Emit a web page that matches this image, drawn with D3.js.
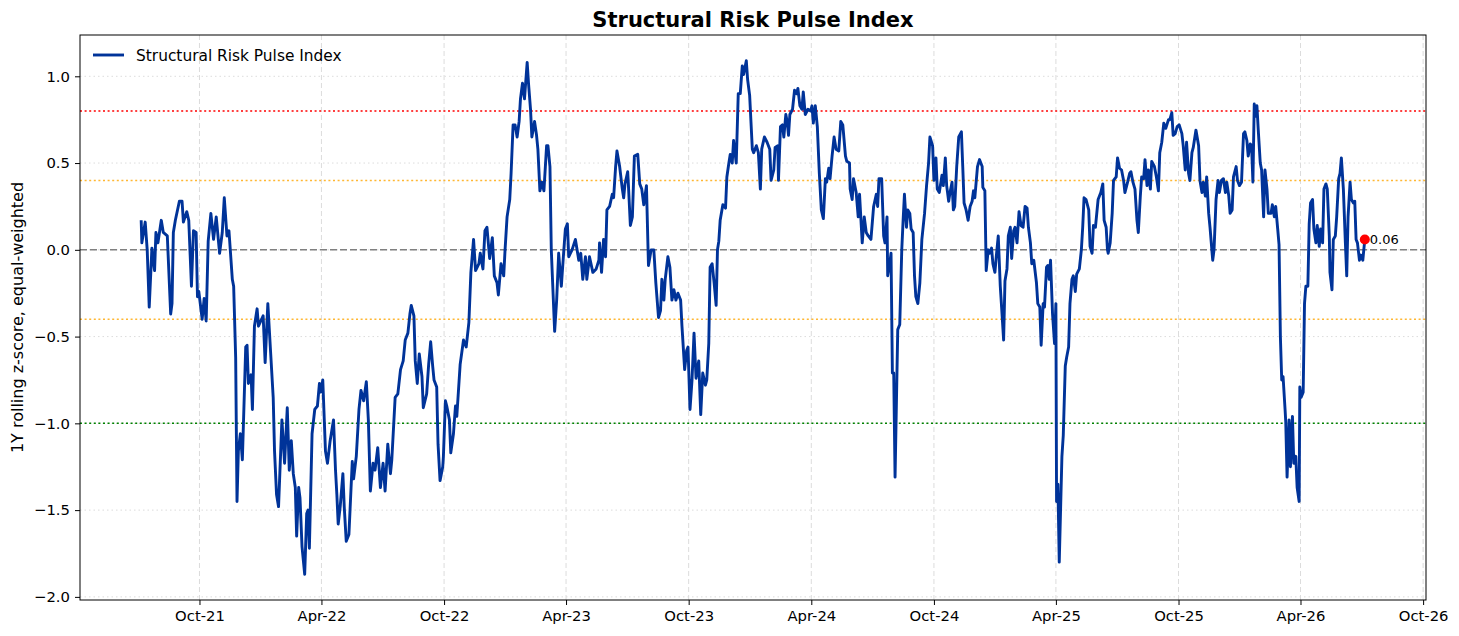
<!DOCTYPE html>
<html>
<head>
<meta charset="utf-8">
<script src="https://cdn.jsdelivr.net/npm/d3@7"></script>
<style>
  body { margin: 0; background: #fff; }
  svg { font-family: "DejaVu Sans", sans-serif; }
</style>
</head>
<body>
<svg id="chart" width="1459" height="636"></svg>
<script>
// index readings (date, z-score)
var pts2021 = [
  ["2021-07-06",0.17],["2021-07-07",0.04],["2021-07-12",0.16],["2021-07-15",0.0],["2021-07-18",-0.33],
  ["2021-07-22",0.01],["2021-07-26",-0.12],["2021-07-28",0.10],["2021-07-31",0.04],["2021-08-05",0.17],
  ["2021-08-08",0.10],["2021-08-14",0.08],["2021-08-19",-0.37],["2021-08-21",-0.31],["2021-08-23",0.10],
  ["2021-08-26",0.17],["2021-09-01",0.28],["2021-09-05",0.28],["2021-09-07",0.16],["2021-09-12",0.22],
  ["2021-09-15",0.17],["2021-09-19",-0.21],["2021-09-22",0.11],["2021-09-26",0.10],["2021-09-28",-0.27],
  ["2021-09-30",-0.24],["2021-10-05",-0.40],["2021-10-08",-0.28],["2021-10-11",-0.41],["2021-10-14",0.05],
  ["2021-10-18",0.21],["2021-10-22",0.06],["2021-10-26",0.19],["2021-10-31",-0.02],["2021-11-04",0.10],
  ["2021-11-07",0.30],["2021-11-11",0.08],["2021-11-14",0.11],["2021-11-19",-0.17],["2021-11-21",-0.21],
  ["2021-11-24",-0.62],["2021-11-26",-1.45],["2021-11-28",-1.16],["2021-12-01",-1.06],["2021-12-04",-1.21],
  ["2021-12-09",-0.56],["2021-12-11",-0.55],["2021-12-13",-0.77],["2021-12-17",-0.72],["2021-12-19",-0.92],
  ["2021-12-22",-0.44],["2021-12-26",-0.34],["2021-12-28",-0.44]
];
var pts2022 = [
  ["2022-01-04",-0.38],["2022-01-07",-0.65],["2022-01-11",-0.31],["2022-01-15",-0.58],["2022-01-19",-0.85],
  ["2022-01-21",-1.16],["2022-01-24",-1.41],["2022-01-27",-1.48],["2022-02-01",-0.98],["2022-02-05",-1.23],
  ["2022-02-09",-0.91],["2022-02-12",-1.27],["2022-02-15",-1.10],["2022-02-18",-1.29],["2022-02-21",-1.37],
  ["2022-02-23",-1.65],["2022-02-26",-1.37],["2022-02-28",-1.43],["2022-03-03",-1.71],["2022-03-07",-1.87],
  ["2022-03-10",-1.52],["2022-03-12",-1.50],["2022-03-14",-1.72],["2022-03-18",-1.06],["2022-03-22",-0.92],
  ["2022-03-26",-0.90],["2022-03-29",-0.77],["2022-03-31",-0.82],["2022-04-03",-0.75],["2022-04-07",-1.16],
  ["2022-04-10",-1.23],["2022-04-14",-1.10],["2022-04-19",-0.98],["2022-04-22",-1.27],["2022-04-24",-1.41],
  ["2022-04-26",-1.58],["2022-04-29",-1.48],["2022-05-03",-1.29],["2022-05-05",-1.48],["2022-05-08",-1.68],
  ["2022-05-12",-1.64],["2022-05-17",-1.22],["2022-05-19",-1.32],["2022-05-23",-1.19],["2022-05-27",-0.92],
  ["2022-05-30",-0.81],["2022-06-03",-0.87],["2022-06-07",-0.76],["2022-06-10",-0.98],["2022-06-13",-1.39],
  ["2022-06-17",-1.23],["2022-06-20",-1.27],["2022-06-24",-1.14],["2022-06-28",-1.37],["2022-07-02",-1.23],
  ["2022-07-05",-1.39],["2022-07-09",-1.12],["2022-07-13",-1.29],["2022-07-15",-1.21],["2022-07-20",-0.85],
  ["2022-07-24",-0.83],["2022-07-28",-0.69],["2022-08-01",-0.64],["2022-08-04",-0.52],["2022-08-08",-0.48],
  ["2022-08-11",-0.37],["2022-08-13",-0.32],["2022-08-17",-0.38],["2022-08-19",-0.64],["2022-08-22",-0.77],
  ["2022-08-25",-0.60],["2022-08-29",-0.73],["2022-08-31",-0.91],["2022-09-05",-0.83],["2022-09-08",-0.66],
  ["2022-09-11",-0.53],["2022-09-14",-0.67],["2022-09-16",-0.75],["2022-09-20",-0.79],["2022-09-22",-1.12],
  ["2022-09-25",-1.33],["2022-09-29",-1.25],["2022-09-30",-1.19],["2022-10-03",-0.87],["2022-10-05",-0.90],
  ["2022-10-09",-0.98],["2022-10-11",-1.17],["2022-10-15",-1.06],["2022-10-18",-0.90],["2022-10-20",-0.96],
  ["2022-10-25",-0.66],["2022-10-30",-0.52],["2022-11-03",-0.56],["2022-11-07",-0.42],["2022-11-10",-0.13],
  ["2022-11-14",0.06],["2022-11-17",-0.12],["2022-11-22",-0.08],["2022-11-24",-0.02],["2022-11-28",-0.11],
  ["2022-12-01",0.11],["2022-12-04",0.13],["2022-12-08",-0.05],["2022-12-12",0.07],["2022-12-15",-0.15],
  ["2022-12-19",-0.19],["2022-12-21",-0.26],["2022-12-25",-0.08],["2022-12-29",-0.15],["2022-12-31",0.0]
];
var pts2023 = [
  ["2023-01-03",0.19],["2023-01-07",0.29],["2023-01-09",0.44],["2023-01-12",0.72],["2023-01-15",0.72],
  ["2023-01-18",0.65],["2023-01-21",0.74],["2023-01-23",0.87],["2023-01-26",0.96],["2023-01-29",0.87],
  ["2023-02-02",1.08],["2023-02-04",0.96],["2023-02-07",0.81],["2023-02-09",0.65],["2023-02-13",0.74],
  ["2023-02-16",0.66],["2023-02-18",0.58],["2023-02-21",0.34],["2023-02-24",0.39],["2023-02-27",0.34],
  ["2023-03-03",0.60],["2023-03-05",0.60],["2023-03-08",0.48],["2023-03-10",0.0],["2023-03-12",-0.19],
  ["2023-03-15",-0.47],["2023-03-18",-0.29],["2023-03-21",-0.02],["2023-03-25",-0.21],["2023-03-28",-0.04],
  ["2023-03-31",0.12],["2023-04-03",0.15],["2023-04-05",-0.04],["2023-04-10",0.0],["2023-04-15",0.06],
  ["2023-04-20",-0.06],["2023-04-23",-0.02],["2023-04-26",-0.17],["2023-04-30",-0.04],["2023-05-02",-0.17],
  ["2023-05-06",-0.04],["2023-05-11",-0.13],["2023-05-16",-0.11],["2023-05-20",-0.06],["2023-05-21",0.04],
  ["2023-05-24",-0.13],["2023-05-27",0.06],["2023-05-30",-0.04],["2023-06-01",0.23],["2023-06-05",0.25],
  ["2023-06-09",0.32],["2023-06-11",0.30],["2023-06-14",0.48],["2023-06-16",0.57],["2023-06-20",0.48],
  ["2023-06-24",0.35],["2023-06-26",0.30],["2023-06-28",0.38],["2023-07-02",0.45],["2023-07-03",0.38],
  ["2023-07-06",0.14],["2023-07-09",0.19],["2023-07-12",0.54],["2023-07-17",0.55],["2023-07-20",0.38],
  ["2023-07-23",0.35],["2023-07-26",0.26],["2023-07-30",0.37],["2023-08-02",-0.09],["2023-08-06",0.0],
  ["2023-08-10",0.0],["2023-08-13",-0.19],["2023-08-17",-0.39],["2023-08-20",-0.35],["2023-08-22",-0.17],
  ["2023-08-25",-0.29],["2023-08-27",-0.17],["2023-08-31",-0.04],["2023-09-03",-0.10],["2023-09-06",-0.29],
  ["2023-09-09",-0.23],["2023-09-12",-0.29],["2023-09-15",-0.25],["2023-09-19",-0.29],["2023-09-21",-0.44],
  ["2023-09-25",-0.69],["2023-09-28",-0.58],["2023-09-30",-0.56],["2023-10-03",-0.92],["2023-10-06",-0.75],
  ["2023-10-09",-0.48],["2023-10-12",-0.74],["2023-10-16",-0.64],["2023-10-19",-0.95],["2023-10-22",-0.71],
  ["2023-10-26",-0.78],["2023-10-28",-0.75],["2023-10-31",-0.54],["2023-11-02",-0.10],["2023-11-05",-0.08],
  ["2023-11-08",-0.19],["2023-11-11",-0.32],["2023-11-13",0.0],["2023-11-15",0.05],["2023-11-17",0.17],
  ["2023-11-21",0.26],["2023-11-25",0.24],["2023-11-27",0.42],["2023-11-30",0.50],["2023-12-02",0.55],
  ["2023-12-05",0.50],["2023-12-07",0.63],["2023-12-11",0.50],["2023-12-14",0.90],["2023-12-17",0.90],
  ["2023-12-20",1.06],["2023-12-22",1.01],["2023-12-26",1.09],["2023-12-28",0.98],["2023-12-31",0.89]
];
var pts2024 = [
  ["2024-01-04",0.58],["2024-01-06",0.56],["2024-01-10",0.60],["2024-01-13",0.56],["2024-01-16",0.35],
  ["2024-01-18",0.58],["2024-01-22",0.65],["2024-01-26",0.62],["2024-01-30",0.58],["2024-02-01",0.40],
  ["2024-02-05",0.46],["2024-02-07",0.59],["2024-02-11",0.60],["2024-02-12",0.40],["2024-02-15",0.71],
  ["2024-02-18",0.72],["2024-02-20",0.65],["2024-02-23",0.78],["2024-02-25",0.74],["2024-02-27",0.66],
  ["2024-02-29",0.78],["2024-03-04",0.81],["2024-03-07",0.92],["2024-03-10",0.90],["2024-03-12",0.93],
  ["2024-03-15",0.83],["2024-03-18",0.81],["2024-03-20",0.91],["2024-03-23",0.78],["2024-03-27",0.81],
  ["2024-03-31",0.80],["2024-04-02",0.83],["2024-04-04",0.73],["2024-04-07",0.83],["2024-04-10",0.71],
  ["2024-04-13",0.44],["2024-04-16",0.23],["2024-04-19",0.18],["2024-04-22",0.41],["2024-04-24",0.39],
  ["2024-04-27",0.47],["2024-04-29",0.41],["2024-05-02",0.54],["2024-05-05",0.65],["2024-05-08",0.58],
  ["2024-05-12",0.57],["2024-05-15",0.74],["2024-05-18",0.72],["2024-05-22",0.54],["2024-05-24",0.51],
  ["2024-05-28",0.50],["2024-05-29",0.35],["2024-06-01",0.29],["2024-06-03",0.41],["2024-06-07",0.33],
  ["2024-06-10",0.19],["2024-06-12",0.32],["2024-06-16",0.04],["2024-06-19",0.19],["2024-06-22",0.10],
  ["2024-06-25",0.08],["2024-06-29",0.06],["2024-07-03",0.25],["2024-07-07",0.32],["2024-07-09",0.25],
  ["2024-07-11",0.41],["2024-07-15",0.41],["2024-07-18",0.08],["2024-07-20",0.04],["2024-07-23",0.19],
  ["2024-07-24",-0.15],["2024-07-27",-0.08],["2024-07-29",-0.02],["2024-07-31",-0.71],["2024-08-02",-0.71],
  ["2024-08-04",-1.31],["2024-08-08",-0.46],["2024-08-11",-0.43],["2024-08-14",0.0],["2024-08-16",0.17],
  ["2024-08-18",0.32],["2024-08-21",0.13],["2024-08-23",0.23],["2024-08-26",0.21],["2024-08-28",0.12],
  ["2024-08-31",0.10],["2024-09-02",-0.15],["2024-09-04",-0.27],["2024-09-07",-0.31],["2024-09-10",-0.19],
  ["2024-09-13",0.06],["2024-09-17",0.21],["2024-09-20",0.37],["2024-09-23",0.50],["2024-09-25",0.65],
  ["2024-09-29",0.60],["2024-10-01",0.40],["2024-10-04",0.53],["2024-10-06",0.35],["2024-10-09",0.33],
  ["2024-10-13",0.43],["2024-10-15",0.37],["2024-10-18",0.53],["2024-10-20",0.37],["2024-10-23",0.28],
  ["2024-10-25",0.33],["2024-10-28",0.39],["2024-10-30",0.23],["2024-11-01",0.25],["2024-11-04",0.48],
  ["2024-11-07",0.65],["2024-11-11",0.68],["2024-11-13",0.48],["2024-11-15",0.27],["2024-11-18",0.23],
  ["2024-11-21",0.17],["2024-11-24",0.25],["2024-11-27",0.28],["2024-11-29",0.34],["2024-12-01",0.30],
  ["2024-12-05",0.48],["2024-12-08",0.52],["2024-12-12",0.48],["2024-12-13",0.36],["2024-12-16",0.34],
  ["2024-12-18",-0.12],["2024-12-21",0.0],["2024-12-23",-0.02],["2024-12-26",0.01],["2024-12-28",-0.08],
  ["2024-12-31",-0.13]
];
var pts2025 = [
  ["2025-01-02",-0.04],["2025-01-05",0.08],["2025-01-08",-0.21],["2025-01-10",-0.33],["2025-01-13",-0.52],
  ["2025-01-15",-0.18],["2025-01-18",-0.11],["2025-01-20",0.08],["2025-01-23",0.13],["2025-01-25",-0.05],
  ["2025-01-28",0.11],["2025-01-30",0.13],["2025-02-02",0.04],["2025-02-05",0.22],["2025-02-08",0.14],
  ["2025-02-11",0.13],["2025-02-14",0.25],["2025-02-17",0.24],["2025-02-19",0.13],["2025-02-22",0.04],
  ["2025-02-24",-0.08],["2025-02-27",-0.06],["2025-03-03",-0.19],["2025-03-05",-0.31],["2025-03-08",-0.33],
  ["2025-03-10",-0.55],["2025-03-13",-0.31],["2025-03-15",-0.33],["2025-03-18",-0.10],["2025-03-20",-0.09],
  ["2025-03-22",-0.17],["2025-03-24",-0.06],["2025-03-27",-0.37],["2025-03-30",-0.54],["2025-04-01",-0.31],
  ["2025-04-02",-1.45],["2025-04-04",-1.35],["2025-04-06",-1.80],["2025-04-10",-1.19],["2025-04-12",-1.07],
  ["2025-04-15",-0.67],["2025-04-17",-0.62],["2025-04-20",-0.56],["2025-04-22",-0.31],["2025-04-25",-0.17],
  ["2025-04-27",-0.15],["2025-04-30",-0.24],["2025-05-02",-0.14],["2025-05-06",-0.11],["2025-05-09",0.0],
  ["2025-05-11",0.13],["2025-05-13",0.30],["2025-05-16",0.29],["2025-05-20",0.23],["2025-05-22",0.02],
  ["2025-05-25",-0.02],["2025-05-27",0.14],["2025-05-30",0.13],["2025-06-03",0.29],["2025-06-07",0.33],
  ["2025-06-10",0.38],["2025-06-12",0.17],["2025-06-15",0.13],["2025-06-17",0.0],["2025-06-18",-0.02],
  ["2025-06-21",0.04],["2025-06-24",0.21],["2025-06-26",0.40],["2025-06-30",0.42],["2025-07-02",0.53],
  ["2025-07-05",0.47],["2025-07-08",0.46],["2025-07-11",0.40],["2025-07-13",0.33],["2025-07-17",0.39],
  ["2025-07-20",0.44],["2025-07-22",0.45],["2025-07-25",0.39],["2025-07-28",0.35],["2025-07-31",0.17],
  ["2025-08-02",0.10],["2025-08-05",0.31],["2025-08-07",0.42],["2025-08-10",0.41],["2025-08-12",0.52],
  ["2025-08-15",0.37],["2025-08-17",0.46],["2025-08-20",0.35],["2025-08-22",0.51],["2025-08-26",0.48],
  ["2025-08-29",0.42],["2025-09-01",0.34],["2025-09-03",0.56],["2025-09-06",0.62],["2025-09-09",0.73],
  ["2025-09-12",0.70],["2025-09-16",0.75],["2025-09-18",0.75],["2025-09-21",0.79],["2025-09-23",0.66],
  ["2025-09-26",0.67],["2025-09-29",0.71],["2025-10-02",0.72],["2025-10-06",0.67],["2025-10-08",0.60],
  ["2025-10-11",0.46],["2025-10-13",0.62],["2025-10-16",0.44],["2025-10-18",0.40],["2025-10-21",0.56],
  ["2025-10-23",0.59],["2025-10-27",0.69],["2025-10-31",0.60],["2025-11-02",0.40],["2025-11-05",0.33],
  ["2025-11-07",0.39],["2025-11-10",0.31],["2025-11-12",0.42],["2025-11-15",0.21],["2025-11-17",0.13],
  ["2025-11-21",-0.06],["2025-11-23",0.0],["2025-11-26",0.29],["2025-11-29",0.40],["2025-12-01",0.33],
  ["2025-12-04",0.40],["2025-12-07",0.41],["2025-12-10",0.33],["2025-12-12",0.39],["2025-12-15",0.31],
  ["2025-12-17",0.21],["2025-12-20",0.23],["2025-12-22",0.42],["2025-12-26",0.48],["2025-12-28",0.40],
  ["2025-12-31",0.37]
];
var pts2026 = [
  ["2026-01-03",0.39],["2026-01-06",0.67],["2026-01-08",0.68],["2026-01-11",0.63],["2026-01-13",0.54],
  ["2026-01-16",0.61],["2026-01-18",0.60],["2026-01-20",0.39],["2026-01-22",0.84],["2026-01-24",0.77],
  ["2026-01-26",0.83],["2026-01-28",0.69],["2026-01-31",0.50],["2026-02-02",0.46],["2026-02-05",0.19],
  ["2026-02-07",0.46],["2026-02-10",0.35],["2026-02-12",0.21],["2026-02-16",0.21],["2026-02-18",0.26],
  ["2026-02-21",0.19],["2026-02-23",0.25],["2026-02-26",0.12],["2026-02-28",0.03],["2026-03-02",-0.50],
  ["2026-03-04",-0.75],["2026-03-06",-0.73],["2026-03-09",-0.92],["2026-03-10",-0.99],["2026-03-12",-1.31],
  ["2026-03-15",-0.98],["2026-03-17",-1.25],["2026-03-20",-0.96],["2026-03-22",-1.23],["2026-03-25",-1.19],
  ["2026-03-27",-1.37],["2026-03-30",-1.45],["2026-03-31",-0.79],["2026-04-02",-0.85],["2026-04-05",-0.82],
  ["2026-04-07",-0.31],["2026-04-09",-0.21],["2026-04-12",-0.21],["2026-04-14",0.15],["2026-04-16",0.27],
  ["2026-04-19",0.29],["2026-04-21",0.12],["2026-04-24",0.04],["2026-04-26",0.14],["2026-04-29",0.02],
  ["2026-05-01",0.12],["2026-05-04",0.04],["2026-05-06",0.35],["2026-05-09",0.38],["2026-05-11",0.35],
  ["2026-05-14",0.08],["2026-05-15",-0.13],["2026-05-18",-0.23],["2026-05-20",0.06],["2026-05-23",0.08],
  ["2026-05-25",0.19],["2026-05-28",0.41],["2026-05-30",0.44],["2026-06-01",0.53],["2026-06-04",0.35],
  ["2026-06-07",0.04],["2026-06-09",-0.15],["2026-06-11",0.19],["2026-06-14",0.39],["2026-06-16",0.29],
  ["2026-06-19",0.27],["2026-06-21",0.28],["2026-06-23",0.06],["2026-06-25",0.04],["2026-06-28",-0.06],
  ["2026-06-30",-0.03],["2026-07-03",-0.06],["2026-07-06",0.06]
];

var seriesName = "Structural Risk Pulse Index";
var xTickDates = ["2021-10-01","2022-04-01","2022-10-01","2023-04-01","2023-10-01","2024-04-01",
                  "2024-10-01","2025-04-01","2025-10-01","2026-04-01","2026-10-01"];
var yTicks = [-2.0, -1.5, -1.0, -0.5, 0.0, 0.5, 1.0];
// threshold lines: level, colour, dash
var refLevels = [0.8, 0.4, 0, -0.4, -1.0];
var refColors = ["#ff0000", "#ffb733", "#808080", "#ffb733", "#008000"];
var refDashes = ["2,2.6", "2,2.6", "7,3", "2,2.6", "2,2.6"];

var W = 1459, H = 636;
var margin = {top: 35, right: 33, bottom: 36, left: 80};

var parse = d3.timeParse("%Y-%m-%d");
var data = pts2021.concat(pts2022, pts2023, pts2024, pts2025, pts2026).map(function(p) {
  return {date: parse(p[0]), value: p[1]};
});

var svg = d3.select("#chart");

// matplotlib-like 5% padding around the data
var xExt = d3.extent(data, function(d) { return d.date; });
var xPad = (xExt[1] - xExt[0]) * 0.05;
var x = d3.scaleTime()
  .domain([new Date(+xExt[0] - xPad), new Date(+xExt[1] + xPad)])
  .range([margin.left, W - margin.right]);

var yExt = d3.extent(data, function(d) { return d.value; });
var yPad = (yExt[1] - yExt[0]) * 0.05;
var y = d3.scaleLinear()
  .domain([yExt[0] - yPad, yExt[1] + yPad])
  .range([H - margin.bottom, margin.top]);

var plotL = margin.left, plotR = W - margin.right, plotT = margin.top, plotB = H - margin.bottom;

// grid
svg.append("g").selectAll("line").data(xTickDates.map(parse)).enter().append("line")
  .attr("x1", function(d) { return x(d); }).attr("x2", function(d) { return x(d); })
  .attr("y1", plotT).attr("y2", plotB)
  .attr("stroke", "#dcdcdc").attr("stroke-width", 1).attr("stroke-dasharray", "5,3");
svg.append("g").selectAll("line").data(yTicks).enter().append("line")
  .attr("x1", plotL).attr("x2", plotR)
  .attr("y1", function(d) { return y(d); }).attr("y2", function(d) { return y(d); })
  .attr("stroke", "#dcdcdc").attr("stroke-width", 1).attr("stroke-dasharray", "1.5,3");

// reference lines
svg.append("g").selectAll("line").data(refLevels).enter().append("line")
  .attr("x1", plotL).attr("x2", plotR)
  .attr("y1", function(d) { return y(d); }).attr("y2", function(d) { return y(d); })
  .attr("stroke", function(d, i) { return refColors[i]; })
  .attr("stroke-width", function(d, i) { return i == 2 ? 1.4 : 1.5; })
  .attr("stroke-dasharray", function(d, i) { return refDashes[i]; });

// the index line
var line = d3.line()
  .x(function(d) { return x(d.date); })
  .y(function(d) { return y(d.value); });

svg.append("path").datum(data)
  .attr("d", line)
  .attr("fill", "none")
  .attr("stroke", "#003399")
  .attr("stroke-width", 2.9)
  .attr("stroke-linejoin", "round");

// last value marker
var last = data[data.length - 1];
svg.append("circle")
  .attr("cx", x(last.date)).attr("cy", y(last.value)).attr("r", 5)
  .attr("fill", "#ff0000");
svg.append("text")
  .attr("x", x(last.date) + 5).attr("y", y(last.value) + 4.5)
  .attr("font-size", 13).attr("fill", "#000")
  .text(d3.format(".2f")(last.value));

// axes
var xAxis = svg.append("g").attr("transform", "translate(0," + plotB + ")")
  .call(d3.axisBottom(x).tickValues(xTickDates.map(parse))
    .tickFormat(d3.timeFormat("%b-%y")).tickSizeInner(5).tickSizeOuter(0).tickPadding(5));
var yAxis = svg.append("g").attr("transform", "translate(" + plotL + ",0)")
  .call(d3.axisLeft(y).tickValues(yTicks).tickFormat(d3.format(".1f"))
    .tickSizeInner(5).tickSizeOuter(0).tickPadding(5));
[xAxis, yAxis].forEach(function(g) {
  g.select(".domain").remove();
  g.selectAll("text").attr("font-size", 14.8).attr("fill", "#000")
    .attr("font-family", "DejaVu Sans, sans-serif");
  g.selectAll("line").attr("stroke", "#000").attr("stroke-width", 1);
});

// frame
svg.append("rect")
  .attr("x", plotL).attr("y", plotT)
  .attr("width", plotR - plotL).attr("height", plotB - plotT)
  .attr("fill", "none").attr("stroke", "#000").attr("stroke-width", 1);

// title and axis label
svg.append("text")
  .attr("x", (plotL + plotR) / 2).attr("y", 27)
  .attr("text-anchor", "middle").attr("font-size", 21).attr("font-weight", "bold")
  .text(seriesName);

svg.append("text")
  .attr("transform", "translate(23," + (plotT + plotB) / 2 + ") rotate(-90)")
  .attr("text-anchor", "middle").attr("font-size", 16)
  .text("1Y rolling z-score, equal-weighted");

// legend
var leg = svg.append("g").attr("transform", "translate(" + (plotL + 13) + ",55)");
leg.append("line").attr("x1", 0).attr("x2", 31).attr("y1", 0).attr("y2", 0)
  .attr("stroke", "#003399").attr("stroke-width", 2.9);
leg.append("text").attr("x", 43).attr("y", 5.5).attr("font-size", 15.4)
  .text(seriesName);
</script>
</body>
</html>
